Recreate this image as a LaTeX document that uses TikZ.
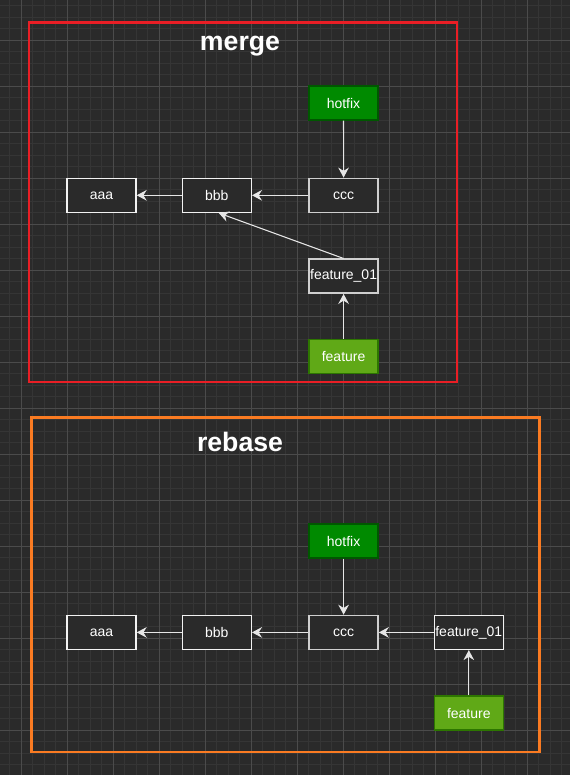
\documentclass[tikz,border=0pt]{standalone}
\usepackage{fontspec}
\setmainfont{Liberation Sans}
\usetikzlibrary{arrows.meta}
\definecolor{bg}{HTML}{2A2A2A}
\definecolor{gridminor}{HTML}{353535}
\definecolor{gridmajor}{HTML}{4B4B4B}
\definecolor{mergered}{HTML}{E91E25}
\definecolor{rebaseorange}{HTML}{FA7B22}
\definecolor{hotfixfill}{HTML}{008A00}
\definecolor{hotfixline}{HTML}{005700}
\definecolor{featfill}{HTML}{60A917}
\definecolor{featline}{HTML}{2D7600}
\definecolor{edgecol}{HTML}{E6E6E6}
\definecolor{boxline}{HTML}{F2F2F2}
\definecolor{boxgrey}{HTML}{CFCFCF}
\begin{document}
\begin{tikzpicture}[x=0.75pt,y=-0.75pt,
  commit/.style={draw=boxline, line width=1.1pt, fill=bg, minimum width=51.75pt, minimum height=25.5pt, inner sep=0pt, text=white, font=\fontsize{10.5}{12}\selectfont},
  commitgrey/.style={commit, draw=boxgrey},
  hotfixbox/.style={commit, draw=hotfixline, fill=hotfixfill},
  featurebox/.style={commit, draw=featline, fill=featfill},
  frame/.style={line width=2.2pt},
  titletext/.style={text=white, font=\fontsize{20}{24}\bfseries\selectfont, inner sep=0pt, anchor=base},
  edge/.style={draw=edgecol, line width=0.8pt, -{Stealth[length=7.5pt, width=8pt, inset=2.5pt]}}
]
% background
\fill[bg] (0,0) rectangle (570,775);
\useasboundingbox (0,0) rectangle (570,775);
% grid
\begin{scope}
\clip (0,0) rectangle (570,775);
\foreach \x in {9.5,21,...,575} \draw[gridminor, line width=0.75pt] (\x,0) -- (\x,775);
\foreach \y in {5.5,17,...,780} \draw[gridminor, line width=0.75pt] (0,\y) -- (570,\y);
\foreach \x in {21,67,...,570} \draw[gridmajor, line width=0.75pt] (\x,0) -- (\x,775);
\foreach \y in {40,86,...,775} \draw[gridmajor, line width=0.75pt] (0,\y) -- (570,\y);
\end{scope}

% merge frame
\draw[frame, draw=mergered] (29,22.5) rectangle (457,382);
\node[titletext] (mergetitle) at (240,50) {merge};

\node[hotfixbox] (mhot) at (343.5,103) {hotfix};
\node[commit] (maaa) at (101.5,195.3) {aaa};
\node[commit] (mbbb) at (216.8,195.3) {bbb};
\node[commitgrey] (mccc) at (343.6,195.3) {ccc};
\node[commitgrey] (mf01) at (343.6,276.2) {feature\_01};
\node[featurebox] (mfeat) at (343.6,356.6) {feature};

\draw[edge] (mhot) -- (mccc);
\draw[edge] (mccc) -- (mbbb);
\draw[edge] (mbbb) -- (maaa);
\draw[edge] (mf01.north) -- ([xshift=1.5pt]mbbb.south);
\draw[edge] (mfeat) -- (mf01);

% rebase frame
\draw[frame, draw=rebaseorange] (31.3,417.5) rectangle (539.5,752);
\node[titletext] (rebasetitle) at (240,451.7) {rebase};

\node[hotfixbox] (rhot) at (343.6,541) {hotfix};
\node[commit] (raaa) at (101.5,632.4) {aaa};
\node[commit] (rbbb) at (216.8,632.4) {bbb};
\node[commitgrey] (rccc) at (343.6,632.4) {ccc};
\node[commit] (rf01) at (468.8,632.4) {feature\_01};
\node[featurebox] (rfeat) at (468.8,713) {feature};

\draw[edge] (rhot) -- (rccc);
\draw[edge] (rccc) -- (rbbb);
\draw[edge] (rbbb) -- (raaa);
\draw[edge] (rf01) -- (rccc);
\draw[edge] (rfeat) -- (rf01);
\end{tikzpicture}
\end{document}
